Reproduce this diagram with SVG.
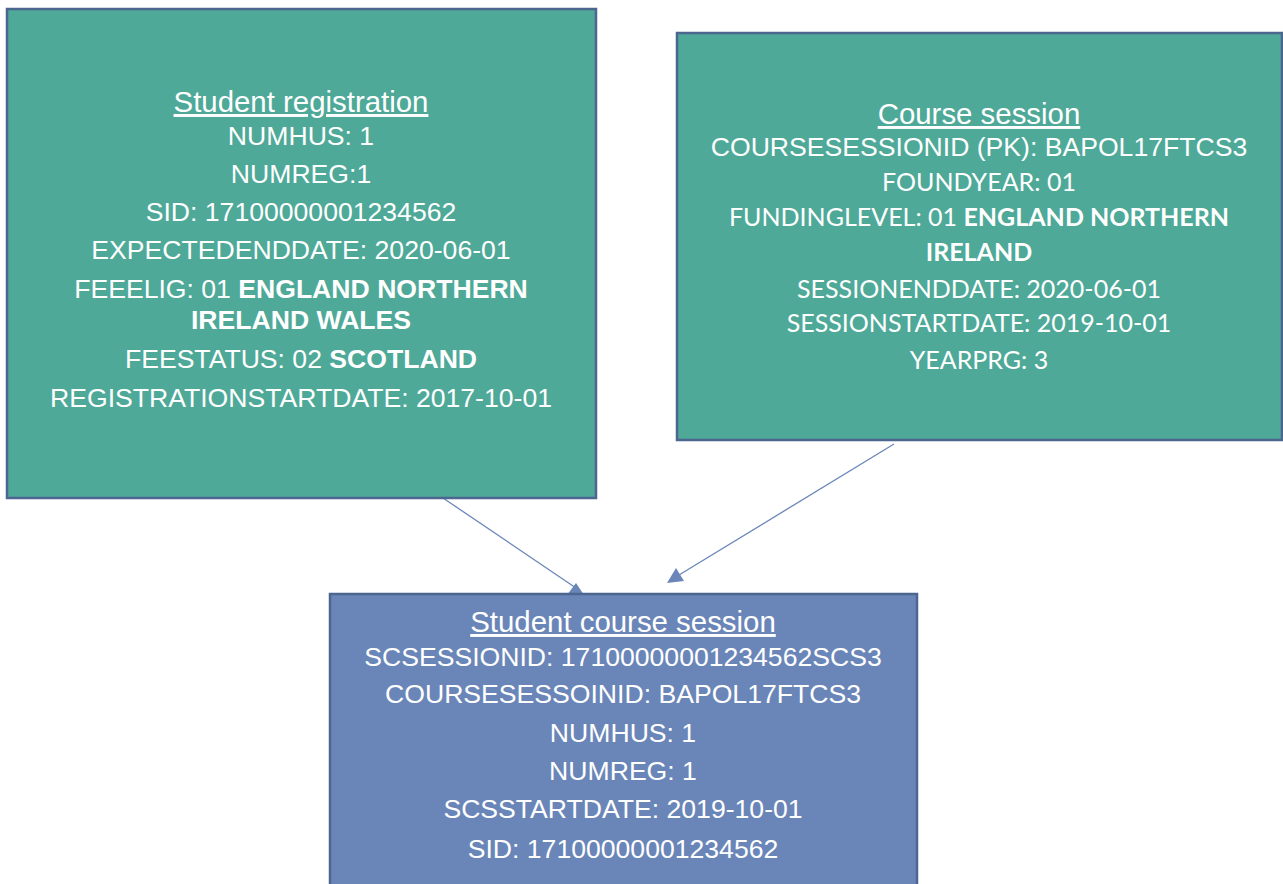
<svg xmlns="http://www.w3.org/2000/svg" width="1283" height="884" viewBox="0 0 1283 884">
<style>
.box{stroke:#4D6690;stroke-width:2.5}
.teal{fill:#4EA998}
.blue{fill:#6A86B8}
text{fill:#FFFFFF;text-anchor:middle}
.a{font-family:"Liberation Sans",Arial,sans-serif;font-size:26.6px}
.t{font-family:"Liberation Sans",Arial,sans-serif;font-size:29.4px;text-decoration:underline}
.c{font-family:Lato,"Noto Sans",sans-serif;font-size:25px}
.b{font-weight:bold}
.conn{stroke:#6A86B8;stroke-width:1.3;fill:none}
.head{fill:#6A86B8}
</style>
<rect width="1283" height="884" fill="#FFFFFF"/>
<g id="connectors">
<line class="conn" x1="443" y1="498" x2="576" y2="588"/>
<polygon class="head" points="576,583 567,595 584,595"/>
<line class="conn" x1="894" y1="444" x2="679" y2="575"/>
<polygon class="head" points="676,568 667,583 684,581"/>
</g>
<g id="student-registration">
<rect class="box teal" x="7" y="9" width="589" height="489"/>
<text class="t" x="301" y="112">Student registration</text>
<text class="a" x="301" y="145">NUMHUS: 1</text>
<text class="a" x="301" y="183">NUMREG:1</text>
<text class="a" x="301" y="221">SID: 17100000001234562</text>
<text class="a" x="301" y="259">EXPECTEDENDDATE: 2020-06-01</text>
<text class="a" x="301" y="298">FEEELIG: 01 <tspan class="b">ENGLAND NORTHERN</tspan></text>
<text class="a b" x="301" y="329">IRELAND WALES</text>
<text class="a" x="301" y="368">FEESTATUS: 02 <tspan class="b">SCOTLAND</tspan></text>
<text class="a" x="301" y="407">REGISTRATIONSTARTDATE: 2017-10-01</text>
</g>
<g id="course-session">
<rect class="box teal" x="677" y="33" width="605" height="407"/>
<text class="t" x="979" y="124">Course session</text>
<text class="a" x="979" y="156">COURSESESSIONID (PK): BAPOL17FTCS3</text>
<text class="c" x="979" y="191">FOUNDYEAR: 01</text>
<text class="c" x="979" y="226">FUNDINGLEVEL: 01 <tspan class="b">ENGLAND NORTHERN</tspan></text>
<text class="c b" x="979" y="261">IRELAND</text>
<text class="c" x="979" y="298">SESSIONENDDATE: 2020-06-01</text>
<text class="c" x="979" y="332">SESSIONSTARTDATE: 2019-10-01</text>
<text class="c" x="979" y="369">YEARPRG: 3</text>
</g>
<g id="student-course-session">
<rect class="box blue" x="330" y="594" width="587" height="300"/>
<text class="t" x="623" y="632">Student course session</text>
<text class="a" x="623" y="666">SCSESSIONID: 17100000001234562SCS3</text>
<text class="a" x="623" y="703">COURSESESSOINID: BAPOL17FTCS3</text>
<text class="a" x="623" y="742">NUMHUS: 1</text>
<text class="a" x="623" y="780">NUMREG: 1</text>
<text class="a" x="623" y="818">SCSSTARTDATE: 2019-10-01</text>
<text class="a" x="623" y="858">SID: 17100000001234562</text>
</g>
</svg>
